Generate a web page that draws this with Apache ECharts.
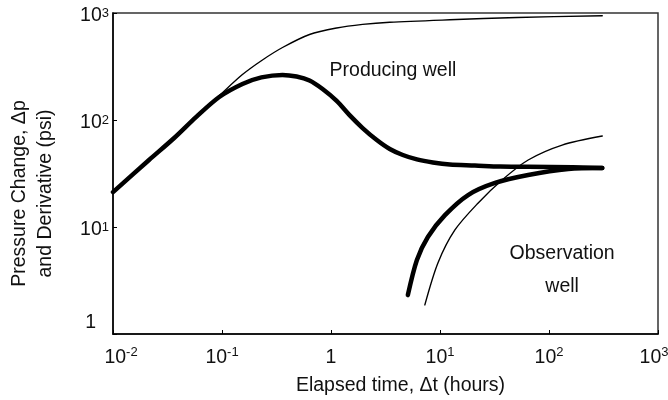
<!DOCTYPE html>
<html>
<head>
<meta charset="utf-8">
<script src="https://cdn.jsdelivr.net/npm/echarts@6/dist/echarts.min.js"></script>
<style>
  html, body { margin: 0; padding: 0; background: #fff; }
  #chart { width: 668px; height: 400px; }
</style>
</head>
<body>
<div id="chart"></div>
<script>
// Elapsed time (hours) and pressure values (psi) for each curve
const prodTime = [0.01, 0.0214, 0.0364, 0.0581, 0.0944, 0.154, 0.235, 0.359, 0.635, 1.127, 1.95, 3.46, 12.3, 50.9, 308];
const prodDeltaP = [21.2, 42.3, 67.9, 107, 169, 266, 364, 476, 630, 724, 782, 819, 864, 908, 944];

const prodDerivTime = [0.01, 0.0214, 0.0364, 0.0581, 0.0944, 0.154, 0.230, 0.359, 0.483, 0.635, 0.837, 1.127, 1.48, 1.95, 2.63, 3.46, 4.56, 6.14, 8.61, 12.3, 20.9, 35.6, 103, 308];
const prodDeriv = [21.2, 42.3, 67.9, 107, 164, 217, 250, 264, 255, 234, 195, 151, 111, 84.1, 65.0, 53.6, 47.1, 42.8, 40.1, 38.4, 37.6, 36.7, 36.4, 35.6];

const obsTime = [7.26, 9.57, 13.7, 22.3, 37.1, 64.4, 132, 308];
const obsDeltaP = [1.87, 4.61, 9.38, 16.7, 27.5, 42.3, 58.3, 70.8];

const obsDerivTime = [5.07, 6.14, 7.74, 11.1, 18.1, 32.0, 64.4, 150, 308];
const obsDeriv = [2.31, 4.92, 8.07, 12.9, 19.9, 25.8, 30.6, 34.8, 35.6];

const FONT = 'Liberation Sans, Arial, sans-serif';
const INK = '#111';

function pairs(xs, ys) { return xs.map((x, i) => [x, ys[i]]); }

// Decade labels written as 10 with a raised exponent
function powerLabel(v, isY) {
  const e = Math.round(Math.log10(v));
  if (e === 0) return isY ? '{one|1}' : '{b|1}';
  if (!isY && e === -2) return '{bl|10}{s|' + e + '}';
  if (!isY && e === 3) return '{br|10}{s|' + e + '}{sr|}';
  return '{b|10}{s|' + e + '}';
}

const base = { fontFamily: FONT, fontSize: 19.5, lineHeight: 24, color: INK };
const sup = { fontFamily: FONT, fontSize: 13, lineHeight: 19, verticalAlign: 'top', color: INK };

const xRich = {
  b: base,
  bl: Object.assign({}, base, { padding: [0, 0, 0, 16] }),
  br: base,
  s: sup,
  sr: { fontSize: 13, lineHeight: 19, width: 8 }
};

const yRich = {
  b: Object.assign({}, base, { padding: [6, 0, 0, 0] }),
  one: Object.assign({}, base, { padding: [0, 13, 22, 0] }),
  s: Object.assign({}, sup, { padding: [6, 0, 0, 0] })
};

function curve(name, data, width) {
  return {
    name: name,
    type: 'line',
    data: data,
    smooth: 0.3,
    showSymbol: false,
    symbol: 'none',
    silent: true,
    lineStyle: { color: '#000', width: width, cap: 'round', join: 'round' },
    z: width > 2 ? 2 : 3
  };
}

const chart = echarts.init(document.getElementById('chart'), null, { renderer: 'canvas' });

chart.setOption({
  animation: false,
  backgroundColor: '#fff',
  grid: {
    left: 113, right: 10, top: 13, bottom: 66,
    outerBoundsMode: 'none',
    containLabel: false,
    show: true, borderColor: '#333', borderWidth: 1.5, backgroundColor: 'transparent'
  },
  xAxis: {
    type: 'log',
    logBase: 10,
    min: 0.01,
    max: 1000,
    name: 'Elapsed time, \u0394t (hours)',
    nameLocation: 'middle',
    nameGap: 42,
    nameMoveOverlap: false,
    nameTextStyle: { fontFamily: FONT, fontSize: 19.5, color: INK, padding: [0, 0, 0, 30] },
    axisLine: { lineStyle: { color: '#000', width: 1.5 } },
    axisTick: { inside: true, length: 4, lineStyle: { color: '#000', width: 1 } },
    minorTick: { show: false },
    splitLine: { show: false },
    axisLabel: {
      margin: 12,
      hideOverlap: false,
      formatter: v => powerLabel(v, false),
      rich: xRich
    }
  },
  yAxis: {
    type: 'log',
    logBase: 10,
    min: 1,
    max: 1000,
    name: 'Pressure Change, \u0394p\nand Derivative (psi)',
    nameLocation: 'middle',
    nameRotate: 90,
    nameGap: 54,
    nameMoveOverlap: false,
    nameTextStyle: { fontFamily: FONT, fontSize: 19.5, lineHeight: 26, color: INK, padding: [0, 40, 0, 0] },
    axisLine: { lineStyle: { color: '#000', width: 1.5 } },
    axisTick: { inside: true, length: 4, lineStyle: { color: '#000', width: 1 } },
    minorTick: { show: false },
    splitLine: { show: false },
    axisLabel: {
      margin: 4,
      formatter: v => powerLabel(v, true),
      rich: yRich
    }
  },
  series: [
    curve('Producing well \u0394p', pairs(prodTime, prodDeltaP), 1.4),
    curve('Producing well derivative', pairs(prodDerivTime, prodDeriv), 4.5),
    curve('Observation well \u0394p', pairs(obsTime, obsDeltaP), 1.4),
    curve('Observation well derivative', pairs(obsDerivTime, obsDeriv), 4.5)
  ]
});

// Curve annotations anchored in data coordinates
const producingAt = chart.convertToPixel({ gridIndex: 0 }, [0.97, 293]);
const observationAt = chart.convertToPixel({ gridIndex: 0 }, [132, 4.1]);

chart.setOption({
  graphic: [
    {
      type: 'text',
      left: producingAt[0],
      top: producingAt[1] - 9,
      style: { text: 'Producing well', font: '19.5px ' + FONT, fill: INK }
    },
    {
      type: 'text',
      x: observationAt[0],
      y: observationAt[1] + 2,
      style: {
        text: 'Observation\nwell',
        font: '19.5px ' + FONT,
        fill: INK,
        align: 'center',
        verticalAlign: 'middle',
        lineHeight: 33
      }
    }
  ]
});
</script>
</body>
</html>
